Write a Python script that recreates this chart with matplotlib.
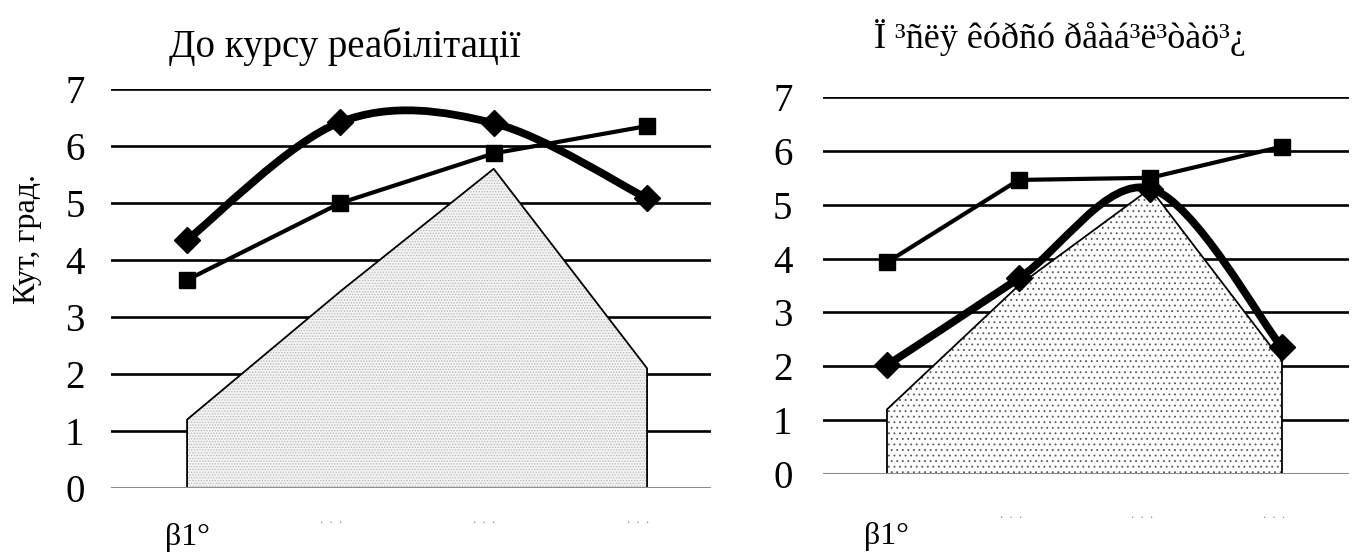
import numpy as np
import matplotlib.pyplot as plt
from matplotlib.path import Path
from matplotlib.patches import PathPatch
import matplotlib.transforms as mtransforms

plt.rcParams['font.family'] = ['Liberation Serif', 'DejaVu Serif']
plt.rcParams['hatch.linewidth'] = 0.6

# categories (only the first label is legible in the source, the rest are tiny dots)
categories = ["β1°", ".  .  .", ".  .  .", ".  .  ."]
y_ticks = [0, 1, 2, 3, 4, 5, 6, 7]
y_label = "Кут, град."

before_title = "До курсу реабілітації"
before_area = [1.2, 3.45, 5.6, 2.1]
before_diamond = [4.35, 6.42, 6.4, 5.08]
before_square = [3.65, 5.0, 5.87, 6.35]

after_title = "Ï ³ñëÿ êóðñó ðåàá³ë³òàö³¿"
after_area = [1.2, 3.5, 5.3, 2.1]
after_diamond = [2.02, 3.63, 5.3, 2.35]
after_square = [3.93, 5.46, 5.5, 6.08]


def smooth_path(xs, ys):
    # Excel-style smoothed line: cubic bezier segments, catmull-rom tangents
    pts = np.column_stack([xs, ys]).astype(float)
    n = len(pts)
    verts = [pts[0]]
    codes = [Path.MOVETO]
    for i in range(n - 1):
        p0 = pts[max(i - 1, 0)]
        p1 = pts[i]
        p2 = pts[i + 1]
        p3 = pts[min(i + 2, n - 1)]
        verts += [p1 + (p2 - p0) / 6, p2 - (p3 - p1) / 6, p2]
        codes += [Path.CURVE4] * 3
    return Path(verts, codes)


def draw_panel(ax, area, diamond, square, face, hatch, hatch_col, xlim,
               ypad, lab_y, dots_y):
    x = np.arange(len(categories))
    ax.set_xlim(*xlim)
    ax.set_ylim(0, 7)

    for v in y_ticks[1:]:
        ax.axhline(v, color="black", lw=1.9, zorder=1)

    ax.fill_between(x, area, facecolor=face, edgecolor=hatch_col, hatch=hatch,
                    lw=0, zorder=2)
    ax.fill_between(x, area, facecolor="none", edgecolor="black", lw=1.3, zorder=3)
    ax.axhline(0, color="#8c8c8c", lw=2.2, zorder=4)

    ax.plot(x, square, color="black", lw=3.0, marker="s", ms=11.5, zorder=5)
    ax.add_patch(PathPatch(smooth_path(x, diamond), fc="none", ec="black",
                           lw=5.6, zorder=6))
    ax.plot(x, diamond, ls="none", marker="D", color="black", ms=13, zorder=7)

    for s in ax.spines.values():
        s.set_visible(False)
    ax.set_yticks(y_ticks)
    ax.tick_params(axis="y", length=0, pad=ypad, labelsize=28)
    ax.set_xticks([])

    trans = mtransforms.blended_transform_factory(ax.transData, ax.transAxes)
    for xi, lab in zip(x, categories):
        if lab.startswith("β"):
            ax.text(xi, lab_y, lab, transform=trans, ha="center", va="center",
                    fontsize=23)
        else:
            ax.text(xi - 0.06, dots_y, lab, transform=trans, ha="center",
                    va="center", fontsize=9, color="#8a8a8a")


fig = plt.figure(figsize=(13.57, 5.6), dpi=100)

ax1 = fig.add_axes([111 / 1357, 1 - 488 / 560, 600 / 1357, 399 / 560])
draw_panel(ax1, before_area, before_diamond, before_square,
           face="#f3f3f3", hatch="......", hatch_col="#b8b8b8",
           xlim=(-0.496, 3.417), ypad=19, lab_y=-0.123, dots_y=-0.080)

ax2 = fig.add_axes([823 / 1357, 1 - 474 / 560, 526 / 1357, 377 / 560])
draw_panel(ax2, after_area, after_diamond, after_square,
           face="white", hatch="...", hatch_col="#555555",
           xlim=(-0.486, 3.509), ypad=22, lab_y=-0.167, dots_y=-0.109)

fig.text(345 / 1357, 1 - 57 / 560, before_title, ha="center", va="baseline",
         fontsize=28)
fig.text(1060 / 1357, 1 - 48 / 560, after_title, ha="center", va="baseline",
         fontsize=26)
fig.text(28 / 1357, 1 - 239 / 560, y_label, rotation=90, ha="center",
         va="center", fontsize=23)

fig.savefig("out.png", dpi=100)
